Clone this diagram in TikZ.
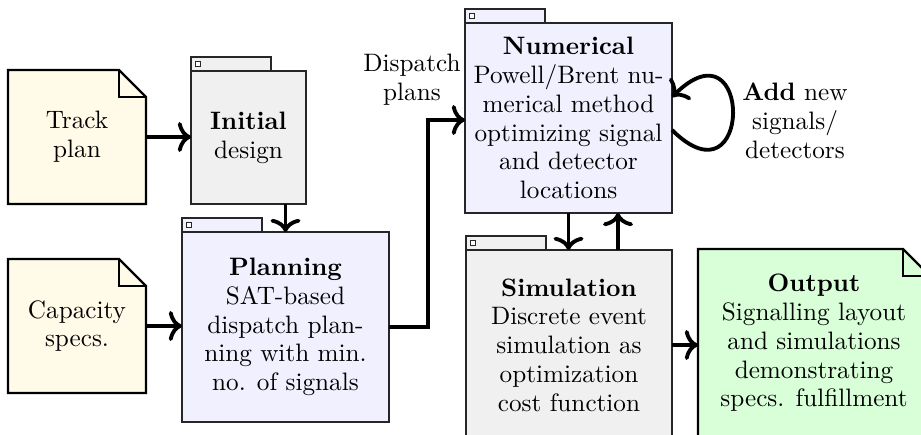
\documentclass[tikz,border=0pt]{standalone}
\usetikzlibrary{arrows.meta,calc,backgrounds}
\newcommand\pxu{0.41667pt}
\definecolor{docfill}{RGB}{255,251,232}
\definecolor{modgray}{RGB}{240,240,240}
\definecolor{modblue}{RGB}{240,240,255}
\definecolor{outgreen}{RGB}{216,255,216}
\tikzset{
  every node/.append style={font=\fontsize{10.5}{12}\selectfont},
  modbox/.style={draw=black!85, line width=0.5pt, inner sep=0pt, outer sep=0pt, align=center},
  docbox/.style={inner sep=0pt, outer sep=0pt, align=center},
  docline/.style={draw=black, line width=0.9pt, line join=miter},
  tabline/.style={draw=black!85, line width=0.5pt},
  arr/.style={line width=1.6pt, -{To[length=5.5pt,width=12.5pt]}},
  plain/.style={align=center, inner sep=0pt}
}
\newcommand\modtab[2]{%
  \draw[tabline, fill=#2] ($(#1.north west)+(0,-14)$) rectangle ($(#1.north west)+(80,0)$);
  \draw[tabline, line width=0.4pt, fill=white] ($(#1.north west)+(4,-10)$) rectangle ++(5,5);
}
\newcommand\docshape[2]{%
  \filldraw[docline, fill=#2] (#1.north west) -- ($(#1.north east)+(-27,0)$) -- ($(#1.north east)+(0,27)$) -- (#1.south east) -- (#1.south west) -- cycle;
  \draw[docline] ($(#1.north east)+(-27,0)$) |- ($(#1.north east)+(0,27)$);
}
\begin{document}
\begin{tikzpicture}[x=0.41667pt, y=-0.41667pt]
\useasboundingbox (0,0) rectangle (921,434);
\clip (0,0) rectangle (921,434);

% documents
\node[docbox, minimum width=138*\pxu, minimum height=134*\pxu] (track) at (77,137) {Track\\plan};
\node[docbox, minimum width=138*\pxu, minimum height=134*\pxu] (cap) at (77,326) {Capacity\\specs.};
\node[docbox, minimum width=232*\pxu, minimum height=188*\pxu] (out) at (814,343)
  {\textbf{Output}\\Signalling layout\\and simulations\\demonstrating\\specs. fulfillment};
\begin{scope}[on background layer]
  \docshape{track}{docfill}
  \docshape{cap}{docfill}
  \docshape{out}{outgreen}
\end{scope}

% modules
\node[modbox, fill=modgray, minimum width=115*\pxu, minimum height=133*\pxu] (init) at (248.5,137.5)
  {\textbf{Initial}\\design};
\node[modbox, fill=modblue, minimum width=207*\pxu, minimum height=190*\pxu] (plan) at (285.5,327)
  {\textbf{Planning}\\SAT-based\\dispatch plan-\\ning with min.\\no. of signals};
\node[modbox, fill=modblue, minimum width=207*\pxu, minimum height=190*\pxu] (num) at (568.5,118)
  {\textbf{Numerical}\\Powell/Brent nu-\\merical method\\optimizing signal\\and detector\\locations};
\node[modbox, fill=modgray, minimum width=206*\pxu, minimum height=190*\pxu] (sim) at (569,345)
  {\textbf{Simulation}\\Discrete event\\simulation as\\optimization\\cost function};
\modtab{init}{modgray}
\modtab{plan}{modblue}
\modtab{num}{modblue}
\modtab{sim}{modgray}

% labels
\node[plain] (dlabel) at (412,80) {Dispatch\\plans};
\node[plain] (alabel) at (795,121) {\textbf{Add} new\\signals/\\detectors};

% connectors
\draw[arr] (track.east) -- (track.east -| init.west);
\draw[arr] (cap.east) -- (cap.east -| plan.west);
\draw[arr] (init.south -| plan.north) -- (plan.north);
\coordinate (bend) at ($(plan.east)+(39,0)$);
\draw[arr] (plan.east) -- (bend) |- ($(num.west)+(0,2)$);
\draw[arr] (num.south) -- (num.south |- sim.north);
\coordinate (up) at ($(sim.north)+(49,0)$);
\draw[arr] (up) -- (up |- num.south);
\draw[arr] (sim.east) -- (sim.east -| out.west);
\coordinate (ls) at ($(num.east)+(0,12)$);
\coordinate (le) at ($(num.east)+(0,-21)$);
\draw[arr] (ls) .. controls +(81,80) and +(81,-80) .. (le);
\end{tikzpicture}
\end{document}
